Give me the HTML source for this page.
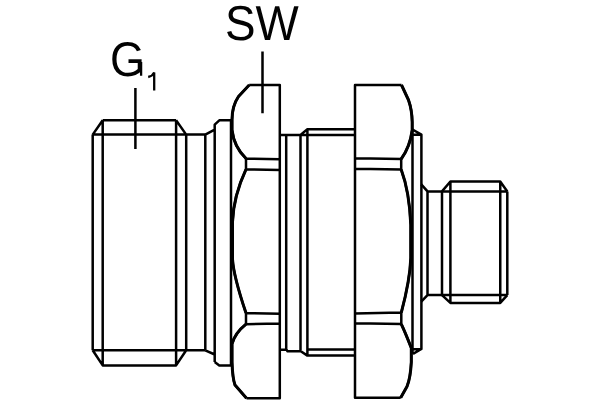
<!DOCTYPE html>
<html><head><meta charset="utf-8"><style>
html,body{margin:0;padding:0;background:#fff;width:600px;height:400px;overflow:hidden}
svg{display:block}
text{font-family:"Liberation Sans",sans-serif;fill:#000;text-rendering:geometricPrecision}
</style></head><body>
<svg width="600" height="400" viewBox="0 0 600 400">
<g fill="none" stroke="#000" stroke-width="2.5" stroke-linejoin="round" stroke-linecap="butt">
<!-- leaders -->
<path d="M135.4,88V149M262.5,51.5V113.3"/>
<!-- left thread -->
<path d="M102.7,120.3H176.1M92.7,134.6L102.7,120.3M176.1,120.3L186.2,134.6M92.7,134.6H205.3M92.7,134.6V350.3M102.7,120.3V365.4M176.1,120.3V365.4M186.2,134.6V350.3M92.7,350.3H205.3M92.7,350.3L102.7,365.4H176.1L186.2,350.3"/>
<!-- neck -->
<path d="M205.3,134.6V350.3M205.3,134.6L214.7,129.6M214.7,362V124.6L219.3,120.3H231M205.3,350.3L214.7,354.5M214.7,362L219.3,365.4H231M231,120.3V365.4"/>
<!-- left nut -->
<path d="M249.2,85H279.8V398.3H246.5M249.2,85L238.5,96.5Q232,106 232,120V130Q234,147 246,158.5M246,158.5L279.8,159.2M246,169.3L279.8,170M246,158.5V169.3M246,169.3Q233.5,196 232.5,222V259Q233.5,276 246,313.1M246,313.1L279.8,313.8M246,324.2L279.8,323.5M246,313.1V324.2M246,324.2Q235,333 232,344V362Q232.5,378 235,385L246.5,398.3"/>
<!-- center body -->
<path d="M279.8,134.9H354.8M300.5,134.9L307.4,129.2H354.8M286.2,134.9V350M300.5,134.9V350M307.4,129.2V355.5M279.8,349.8H286.5L287.5,351.2H300.8L307.4,355.6H355M307.4,349.5H355"/>
<!-- right nut -->
<path d="M401.5,85H355V397.7H400.7M401.5,85L408.5,100Q412,110 412.2,122V130Q410,147 401.2,159M355,158.3L401.2,159M355,168.8L401.2,169.6M401.2,159V169.6M401.2,169.6Q409.5,192 410.8,225V258Q410,280 401.3,312.6M355,313.4L401.3,312.6M355,323.3L401.3,324.1M401.3,312.6V324.1M401.3,324.1Q405.5,333 411.3,348V362Q410.5,378 407,386.5L400.7,397.7"/>
<!-- right collar -->
<path d="M412.5,129.5L421.4,134.6V349L413,353.8M412.5,129.5V353.8M412.5,134.8H421.4M413,349.2H421.4"/>
<!-- right neck -->
<path d="M421.25,184.3L427.5,191.4H507.3M427.5,191.4V295.1M427.5,295.1L421.25,301.7M427.5,295.1H507.3"/>
<!-- right thread -->
<path d="M442,191.4L450.4,181.5H500.25L507.3,191.4M442,191.4V295.1M450.4,181.5V302.9M500.25,181.5V302.9M507.3,191.4V295.1M442,295.1L450.4,302.9H500.25L507.3,295.1"/>
<path stroke-width="3" d="M249.2,85L238.5,96.5Q232,106 232,120V130Q234,147 246,158.5M246,169.3Q233.5,196 232.5,222V259Q233.5,276 246,313.1M246,324.2Q235,333 232,344V362Q232.5,378 235,385L246.5,398.3M401.5,85L408.5,100Q412,110 412.2,122V130Q410,147 401.2,159M401.2,169.6Q409.5,192 410.8,225V258Q410,280 401.3,312.6M401.3,324.1Q405.5,333 411.3,348V362Q410.5,378 407,386.5L400.7,397.7"/>
</g>
<g opacity="0.995"><text x="110.1" y="76.2" font-size="48.6" transform="translate(110.1,0) scale(0.925,1) translate(-110.1,0)">G</text>
<path d="M148.2,77 Q152.6,76.2 154.2,72.4V90.4M141.1,62V75.8" fill="none" stroke="#000" stroke-width="2.3"/>
<text x="225" y="40.3" font-size="49" transform="translate(225,0) scale(0.935,1) translate(-225,0)">SW</text></g>
</svg>
</body></html>
